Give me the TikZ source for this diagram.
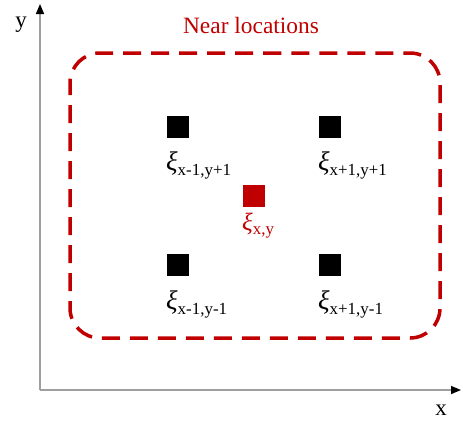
\documentclass[tikz,border=0pt]{standalone}
\usepackage{fontspec}
\setmainfont{Liberation Serif}
\usetikzlibrary{arrows.meta}
\definecolor{darkred}{RGB}{192,0,0}
\newcommand{\xisub}[1]{{\fontsize{27}{30}\selectfont\itshape ξ}\raisebox{-5bp}{\fontsize{17}{18}\selectfont #1}}
\newcommand{\xismall}[1]{{\fontsize{25}{27}\selectfont\itshape ξ}\raisebox{-4bp}{\fontsize{17}{18}\selectfont #1}}
\tikzset{
  pt/.style={draw=none, fill=black, minimum size=22bp, inner sep=0pt},
  lab/.style={inner sep=0pt, anchor=base west},
  axis/.style={gray!75, line width=1.4bp, -{Triangle[black, length=10bp, width=8bp]}}
}
\begin{document}
\begin{tikzpicture}[x=1bp, y=-1bp]
    \useasboundingbox (0,0) rectangle (463,423);
    % 坐标轴
    \coordinate (O) at (40,390);
    \coordinate (ytip) at (40,4);
    \coordinate (xtip) at (461,390);
    \draw[axis] (O) -- (ytip);
    \draw[axis] (O) -- (xtip);
    \node[font=\fontsize{23}{24}\selectfont] (ylab) at (21,25) {y};
    \node[font=\fontsize{23}{24}\selectfont] (xlab) at (441,410) {x};
    % 邻近区域
    \draw[darkred, line width=3.5bp, dash pattern=on 18bp off 10bp, dash phase=6bp, rounded corners=30bp] (70,53) rectangle (440,338);
    \node[darkred, font=\fontsize{23.5}{25}\selectfont, anchor=base] (title) at (251,33) {Near locations};
    % 格点
    \node[pt] (p11) at (178,127) {};
    \node[pt] (p21) at (330,127) {};
    \node[pt, fill=darkred] (pc) at (254,196) {};
    \node[pt] (p12) at (178,265) {};
    \node[pt] (p22) at (330,265) {};
    % 标签
    \node[lab] (l11) at (166,170) {\xisub{x-1,y+1}};
    \node[lab] (l21) at (318,170) {\xisub{x+1,y+1}};
    \node[lab, darkred] (lc) at (242,230) {\xismall{x,y}};
    \node[lab] (l12) at (166,309) {\xisub{x-1,y-1}};
    \node[lab] (l22) at (318,309) {\xisub{x+1,y-1}};
\end{tikzpicture}
\end{document}
